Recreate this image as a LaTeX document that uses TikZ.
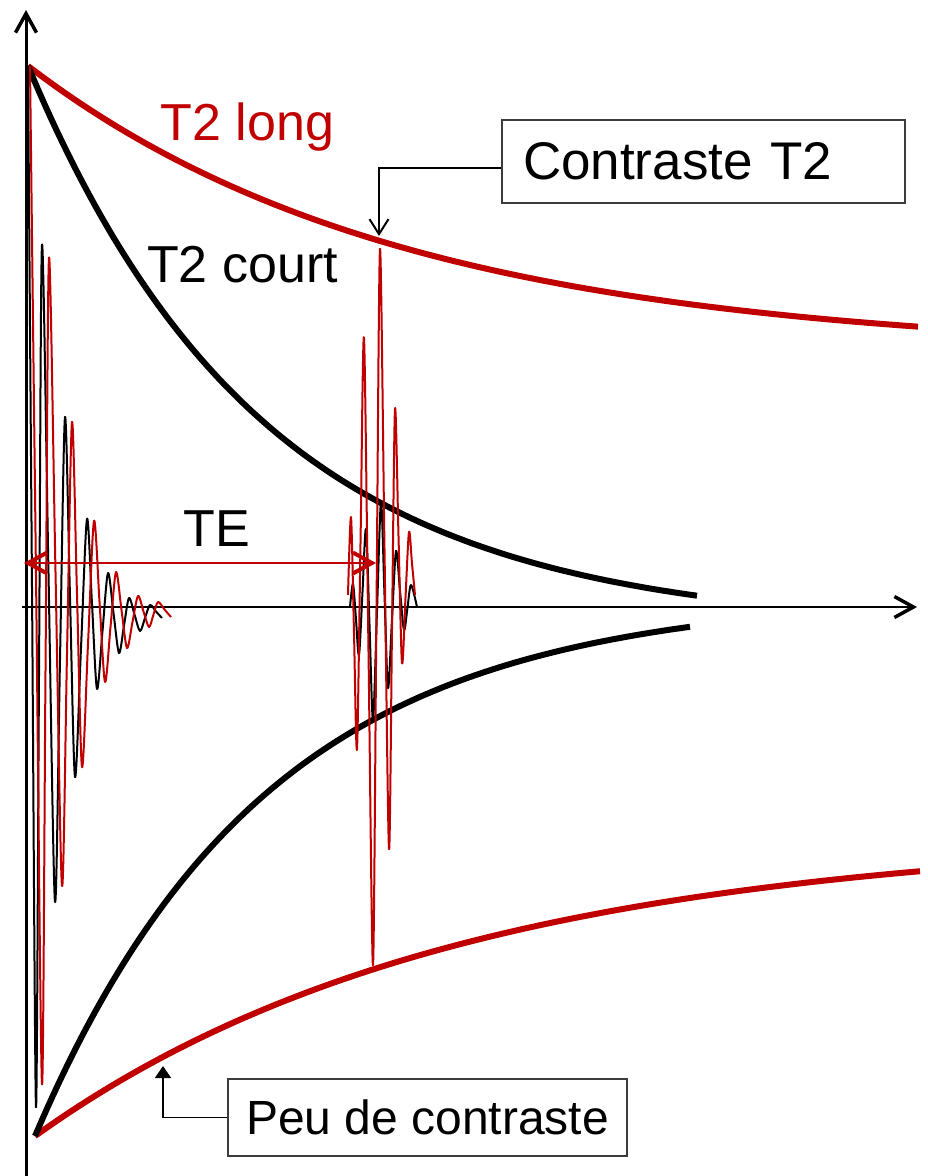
\documentclass[tikz,border=0pt]{standalone}
\usepackage{fontspec}
\setmainfont{Liberation Sans}
\usetikzlibrary{arrows.meta}
\definecolor{dred}{RGB}{192,0,0}
\definecolor{boxgray}{RGB}{60,60,60}
\tikzset{
  thickcurve/.style={line width=6pt, line join=round},
  wave/.style={line width=2pt, line join=round},
  vbarb/.style={-{Straight Barb[length=19pt,width=21pt,line width=3.5pt]}},
  lbl/.style={font=\fontsize{52}{60}\selectfont, inner sep=0pt, anchor=base},
  boxnode/.style={draw=boxgray, line width=1.6pt, inner sep=0pt},
  callout/.style={line width=1.6pt, black},
}
\begin{document}
\begin{tikzpicture}[x=1pt,y=-1pt]
\useasboundingbox (0,0) rectangle (928,1176);

% axes
\coordinate (ybot) at (26,1176);
\coordinate (ytop) at (26,10);
\coordinate (xl) at (22,607);
\coordinate (xr) at (917,607);
\draw[line width=3pt, vbarb] (ybot) -- (ytop);
\draw[line width=2pt, vbarb] (xl) -- (xr);

% thick decay / recovery curves
\draw[thickcurve, dred] plot[domain=28:918, samples=120] (\x, {353.4-287.4*exp(-(\x-28)/375)});
\draw[thickcurve, dred] plot[domain=35:920, samples=120] (\x, {834.6+301.4*exp(-(\x-35)/420)});
\draw[thickcurve, black] plot[domain=28:697, samples=120] (\x, {628.3-562.3*exp(-(\x-28)/235)});
\draw[thickcurve, black] plot[domain=35:690, samples=120] (\x, {595.5+540.5*exp(-(\x-35)/230)});

% FID
\draw[wave, black] plot[smooth] coordinates {(28,66) (32,586.5) (36,1107) (39,676) (42,245) (48.5,573.5) (55,902) (60,659.5) (65,417) (70,597) (75,777) (81,648) (87,519) (92,604) (97,689) (102.5,631) (108,573) (113.5,613) (119,653) (124,625.5) (129,598) (134.5,614.5) (140,631) (145,618) (150,605) (156,611.5) (162,618)};
\draw[wave, dred] plot[smooth] coordinates {(30,66) (36,575) (42,1084) (45.5,671) (49,258) (55.5,572) (62,886) (67,654) (72,422) (77,594.5) (82,767) (88,644) (94,521) (99.5,601.5) (105,682) (110.5,627) (116,572) (121.5,610) (127,648) (132.5,622) (138,596) (143.5,611.5) (149,627) (153.5,614.5) (158,602) (164.5,609.5) (171,617)};

% echo
\draw[wave, black] plot[smooth] coordinates {(350,607) (353,584) (356,619.5) (359,655) (362.5,592) (366,529) (369.5,624.5) (373,720) (377,611) (381,502) (384.5,595) (388,688) (392,619.5) (396,551) (400,590.5) (404,630) (407.5,607.5) (411,585) (417,607)};
\draw[wave, dred] plot[smooth] coordinates {(348,595) (351,517) (354,633) (357,749) (360.5,543.5) (364,338) (368.5,651.5) (373,965) (376.5,607) (380,249) (384.5,549) (389,849) (392,629) (395,409) (398.5,536) (402,663) (405.5,597.5) (409,532) (412,563.5) (415,595)};

% TE arrow
\coordinate (teL) at (24,563);
\coordinate (teR) at (376,563);
\draw[dred, line width=1.8pt, {Straight Barb[length=19pt,width=21pt,line width=4pt]}-{Straight Barb[length=19pt,width=21pt,line width=4pt]}] (teL) -- (teR);

% labels
\node[lbl, text=dred] (t2long) at (247.5,140) {T2 long};
\node[lbl] (t2court) at (242.5,282) {T2 court};
\node[lbl] (te) at (216.5,546) {TE};

% callout boxes
\node[boxnode, minimum height=83pt, text width=361pt, inner xsep=21pt, align=left,
      font=\fontsize{53}{60}\selectfont] (c2) at (703.5,161.5) {Contraste T2};
\node[boxnode, minimum width=399pt, minimum height=77pt,
      font=\fontsize{48}{56}\selectfont] (pc) at (427.5,1117.5) {Peu de contraste};

\coordinate (c2tip) at (379,236);
\coordinate (pctip) at (163,1066);
\draw[callout, -{Straight Barb[length=15pt,width=19pt,line width=2pt]}] ([yshift=-6.5pt]c2.west) -| (c2tip);
\draw[callout, -{Triangle[length=12pt,width=16pt]}] (pc.west) -| (pctip);
\end{tikzpicture}
\end{document}
